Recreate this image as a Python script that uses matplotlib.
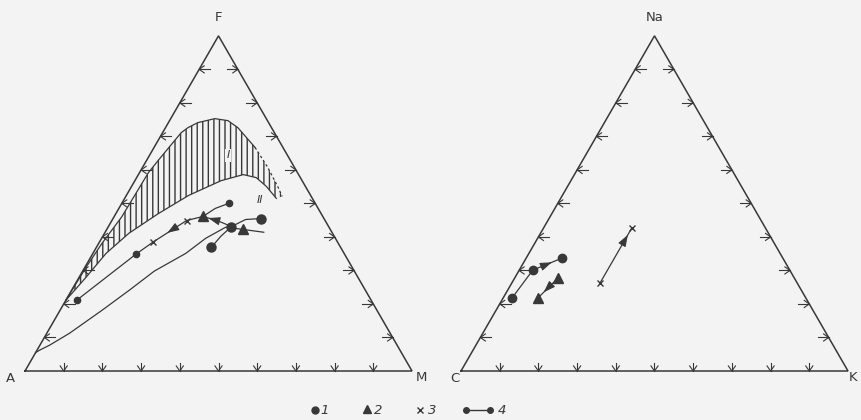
import numpy as np
import matplotlib
matplotlib.use("Agg")
import matplotlib.pyplot as plt
from matplotlib.patches import Polygon

INK = '#383838'
PAPER = '#f3f3f3'
SQ3 = np.sqrt(3) / 2

# AFM diagram, every point given as (M, F) fractions; A = 1 - M - F
afm_dots = [(0.028, 0.211), (0.112, 0.348), (0.276, 0.500),
            (0.297, 0.369), (0.318, 0.431), (0.383, 0.455)]
afm_tris = [(0.229, 0.461), (0.353, 0.423)]
afm_crosses = [(0.193, 0.449), (0.138, 0.384)]

# trend lines (4), ordered in the direction of change
afm_trend_a = [(0.276, 0.500), (0.249, 0.485), (0.229, 0.461)]
afm_trend_b = [(0.318, 0.431), (0.272, 0.449), (0.229, 0.461)]
afm_trend_c = [(0.229, 0.461), (0.193, 0.449), (0.138, 0.384),
               (0.112, 0.348), (0.028, 0.211)]
afm_trend_d = [(0.297, 0.369), (0.305, 0.402), (0.318, 0.431),
               (0.344, 0.452), (0.383, 0.455)]

# field I (hatched) and lower limit of field II
field1_top = [(0.000, 0.211), (0.003, 0.310), (0.0085, 0.381), (0.020, 0.460),
              (0.023, 0.592), (0.030, 0.628), (0.048, 0.711), (0.058, 0.726),
              (0.076, 0.741), (0.114, 0.753), (0.151, 0.747), (0.187, 0.726),
              (0.261, 0.667), (0.324, 0.607), (0.380, 0.548), (0.404, 0.521)]
field1_bottom = [(0.000, 0.211), (0.018, 0.280), (0.034, 0.351), (0.063, 0.411),
                 (0.110, 0.470), (0.161, 0.524), (0.223, 0.568), (0.271, 0.586),
                 (0.309, 0.577), (0.348, 0.551), (0.392, 0.515)]
field2_bottom = [(0.000, 0.055), (0.007, 0.0625), (0.025, 0.077), (0.059, 0.113),
                 (0.109, 0.182), (0.149, 0.241), (0.185, 0.298), (0.240, 0.351),
                 (0.269, 0.396), (0.304, 0.429), (0.348, 0.423), (0.410, 0.414)]

# Na-K-C diagram, points as (K, Na) fractions; C = 1 - K - Na
nkc_dots = [(0.023, 0.218), (0.035, 0.301), (0.093, 0.337)]
nkc_tris = [(0.112, 0.278), (0.090, 0.218)]
nkc_crosses = [(0.228, 0.263), (0.228, 0.427)]

legend_labels = ['1', '2', '3', '4']


def xy(pts):
    p = np.asarray(pts, dtype=float)
    right, top = p[:, 0], p[:, 1]
    return right + top / 2, top * SQ3


def frame(ax, labels, lpos, rpos):
    ax.plot([0, 1, 0.5, 0], [0, 0, SQ3, 0], color=INK, lw=1.1,
            solid_joinstyle='miter')
    stem, barb, ang = 0.028, 0.016, np.radians(35)
    kw = dict(color=INK, lw=0.8)
    for t in np.arange(1, 10) / 10:
        # bottom side
        ax.plot([t, t], [0, stem * 0.7], **kw)
        ax.plot([t - barb * np.sin(ang), t, t + barb * np.sin(ang)],
                [barb * np.cos(ang), 0, barb * np.cos(ang)], **kw)
        # left side
        px, py = t / 2, t * SQ3
        ax.plot([px, px + stem], [py, py], **kw)
        ax.plot([px + barb * np.cos(ang), px, px + barb * np.cos(ang)],
                [py + barb * np.sin(ang), py, py - barb * np.sin(ang)], **kw)
        # right side
        px = 1 - t / 2
        ax.plot([px, px - stem], [py, py], **kw)
        ax.plot([px - barb * np.cos(ang), px, px - barb * np.cos(ang)],
                [py + barb * np.sin(ang), py, py - barb * np.sin(ang)], **kw)
    top, left, right = labels
    tk = dict(color=INK, fontsize=9.5, ha='center', va='center')
    ax.text(0.5, SQ3 + 0.047, top, **tk)
    ax.text(lpos, -0.02, left, **tk)
    ax.text(rpos, -0.018, right, **tk)


def arrow(ax, pts, seg, frac=0.5):
    x, y = xy(pts)
    x0, y0, x1, y1 = x[seg], y[seg], x[seg + 1], y[seg + 1]
    xm, ym = x0 + (x1 - x0) * frac, y0 + (y1 - y0) * frac
    d = np.hypot(x1 - x0, y1 - y0)
    ux, uy = (x1 - x0) / d, (y1 - y0) / d
    ax.annotate('', xy=(xm + ux * 0.012, ym + uy * 0.012), xytext=(xm, ym),
                arrowprops=dict(arrowstyle='-|>,head_length=0.7,head_width=0.25',
                                color=INK, lw=0.8, shrinkA=0, shrinkB=0))


def trend(ax, pts):
    x, y = xy(pts)
    ax.plot(x, y, color=INK, lw=0.9)


def marks(ax, dots, tris, crosses, dot_ms):
    x, y = xy(dots)
    for xi, yi, ms in zip(x, y, dot_ms):
        ax.plot(xi, yi, 'o', color=INK, ms=ms)
    x, y = xy(tris)
    ax.plot(x, y, '^', ls='none', color=INK, ms=6.5)
    x, y = xy(crosses)
    ax.plot(x, y, 'x', ls='none', color=INK, ms=4.5, mew=1.0)


fig = plt.figure(figsize=(8.62, 4.2), dpi=100, facecolor=PAPER)
W, H = 862, 420
S = 387
axL = fig.add_axes([(25 - 0.06 * S) / W, (49 - 0.12 * S) / H, 1.12 * S / W, 1.07 * S / H])
axL.set_xlim(-0.06, 1.06)
axL.set_ylim(-0.12, 0.95)
axR = fig.add_axes([(461 - 0.06 * S) / W, (49 - 0.12 * S) / H, 1.10 * S / W, 1.07 * S / H])
axR.set_xlim(-0.06, 1.04)
axR.set_ylim(-0.12, 0.95)
for ax in (axL, axR):
    ax.set_facecolor(PAPER)
    ax.axis('off')

# AFM
frame(axL, ('F', 'A', 'M'), -0.038, 1.024)
tx, ty = xy(field1_top)
bx, by = xy(field1_bottom)
region = np.column_stack([np.r_[tx, bx[::-1]], np.r_[ty, by[::-1]]])
axL.add_patch(Polygon(region, closed=True, facecolor='none', edgecolor=INK,
                      lw=0, hatch='|||'))
axL.plot(tx[:13], ty[:13], color=INK, lw=0.9)
axL.plot(tx[12:], ty[12:], color=INK, lw=0.9, ls=(0, (2, 2)))
axL.plot(bx, by, color=INK, lw=0.9)
x2, y2 = xy(field2_bottom)
axL.plot(x2, y2, color=INK, lw=0.9)

lx, ly = xy([(0.203, 0.643)])
axL.text(lx[0], ly[0], 'I', fontsize=8, style='italic', color=INK, ha='center',
         va='center', bbox=dict(boxstyle='square,pad=0.15', fc=PAPER, ec='none'))
lx, ly = xy([(0.353, 0.509)])
axL.text(lx[0], ly[0], 'II', fontsize=8, style='italic', color=INK, ha='center',
         va='center')

for path in (afm_trend_a, afm_trend_b, afm_trend_c, afm_trend_d):
    trend(axL, path)
arrow(axL, afm_trend_b, 1, 0.3)
arrow(axL, afm_trend_c, 1, 0.45)
marks(axL, afm_dots, afm_tris, afm_crosses, [4.5, 4.5, 4.5, 6.5, 6.5, 6.5])

# Na-K-C
frame(axR, ('Na', 'C', 'K'), -0.016, 1.012)
trend(axR, nkc_dots)
trend(axR, nkc_tris)
trend(axR, nkc_crosses)
arrow(axR, nkc_dots, 1, 0.5)
arrow(axR, nkc_tris, 0, 0.55)
arrow(axR, nkc_crosses, 0, 0.8)
marks(axR, nkc_dots, nkc_tris, nkc_crosses, [6, 6, 6])

# legend row under the diagrams
leg = fig.add_axes([0, 0, 1, 0.06])
leg.set_xlim(0, W)
leg.set_ylim(0, 0.06 * H)
leg.axis('off')
ly0 = 10
leg.plot(315, ly0, 'o', color=INK, ms=5)
leg.plot(367, ly0 + 1, '^', color=INK, ms=6)
leg.plot(420, ly0, 'x', color=INK, ms=4.5, mew=1.0)
leg.plot([466, 490], [ly0, ly0], '-o', color=INK, ms=4, lw=1.0)
for x, s in zip([325, 378, 432, 502], legend_labels):
    leg.text(x, ly0, s, style='italic', fontsize=9.5, color=INK,
             ha='center', va='center')

fig.savefig('out.png', dpi=100, facecolor=PAPER)
